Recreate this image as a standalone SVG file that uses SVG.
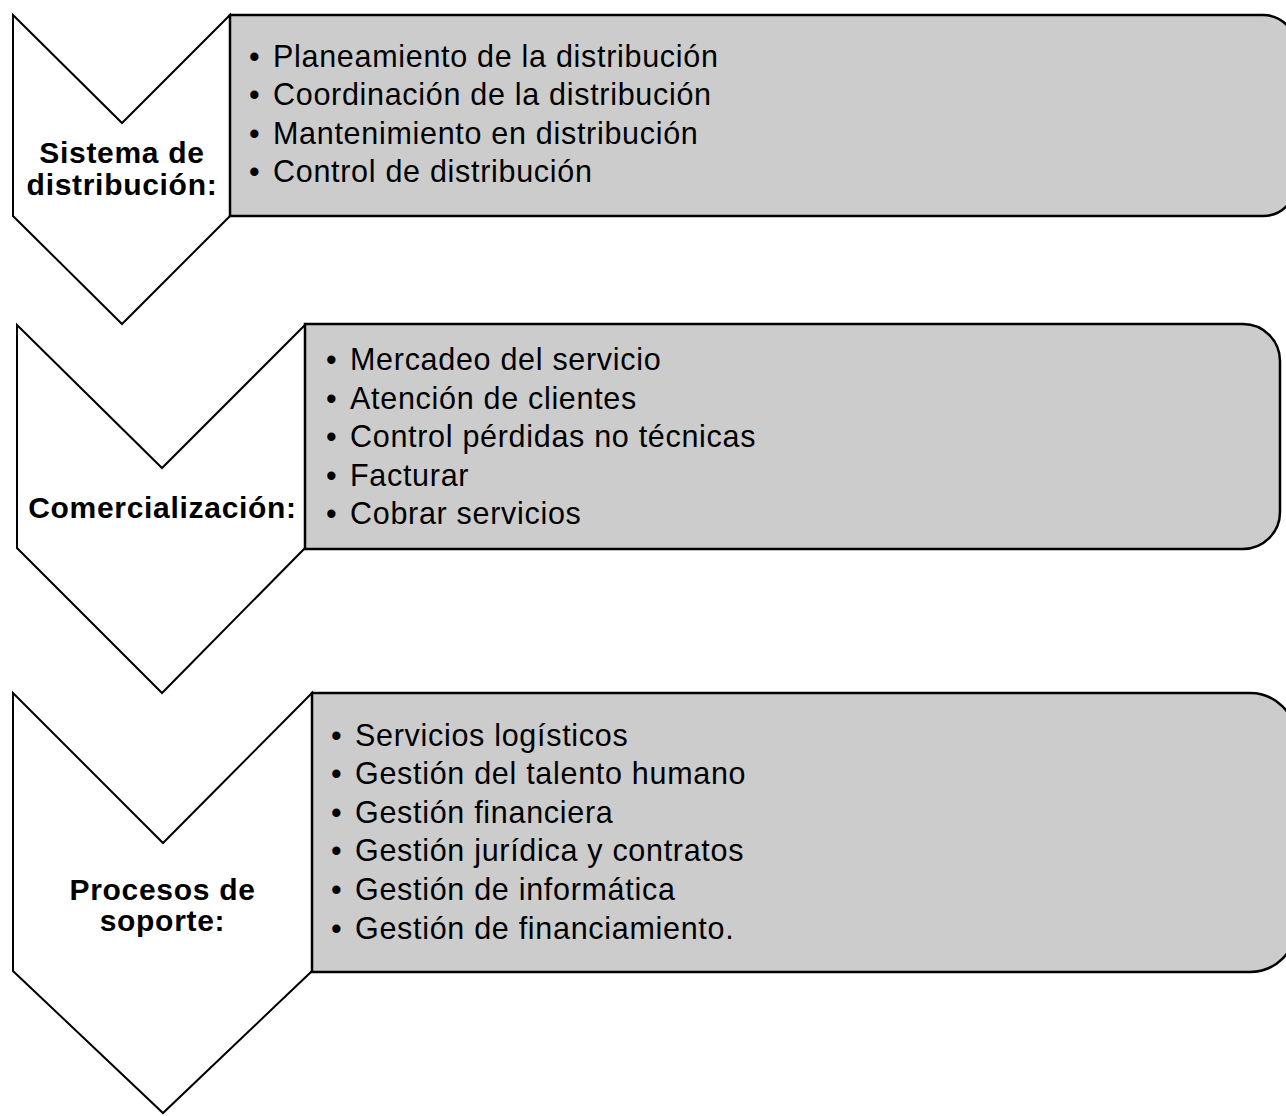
<svg xmlns="http://www.w3.org/2000/svg" width="1286" height="1116" viewBox="0 0 1286 1116">
<style>
.chev{fill:#ffffff;stroke:#000;stroke-width:2;stroke-linejoin:miter}
.box{fill:#cccccc;stroke:#000;stroke-width:2.5}
.lbl{font-family:"Liberation Sans",Arial,sans-serif;font-weight:bold;font-size:30px;letter-spacing:0.7px;fill:#000;text-anchor:middle}
.itm{font-family:"Liberation Sans",Arial,sans-serif;font-size:30.5px;letter-spacing:0.7px;fill:#000}
</style>
<rect width="1286" height="1116" fill="#ffffff"/>
<g id="node-distribucion">
<polygon class="chev" points="13,15 122,123 230,15 230,216 122,324 13,216"/>
<path class="box" d="M230,15 H1263 A33,33 0 0 1 1296,48 V183 A33,33 0 0 1 1263,216 H230 Z"/>
<text class="lbl" x="122" y="163">Sistema de</text>
<text class="lbl" x="122" y="195">distribución:</text>
<g class="itm">
<text x="249" y="66.5">•</text><text x="273" y="66.5">Planeamiento de la distribución</text>
<text x="249" y="105">•</text><text x="273" y="105">Coordinación de la distribución</text>
<text x="249" y="143.5">•</text><text x="273" y="143.5">Mantenimiento en distribución</text>
<text x="249" y="181.5">•</text><text x="273" y="181.5">Control de distribución</text>
</g>
</g>
<g id="node-comercializacion">
<polygon class="chev" points="17,325 162,468 305,325 305,548 162,693 17,548"/>
<path class="box" d="M305,324 H1243 A37,37 0 0 1 1280,361 V512 A37,37 0 0 1 1243,549 H305 Z"/>
<text class="lbl" x="162.5" y="518">Comercialización:</text>
<g class="itm">
<text x="326" y="370">•</text><text x="350" y="370">Mercadeo del servicio</text>
<text x="326" y="408.5">•</text><text x="350" y="408.5">Atención de clientes</text>
<text x="326" y="447">•</text><text x="350" y="447">Control pérdidas no técnicas</text>
<text x="326" y="485.5">•</text><text x="350" y="485.5">Facturar</text>
<text x="326" y="524">•</text><text x="350" y="524">Cobrar servicios</text>
</g>
</g>
<g id="node-soporte">
<polygon class="chev" points="13,693 163,843 312,693 312,971 163,1113 13,971"/>
<path class="box" d="M312,693 H1250 A46,46 0 0 1 1296,739 V926 A46,46 0 0 1 1250,972 H312 Z"/>
<text class="lbl" x="162.5" y="900">Procesos de</text>
<text class="lbl" x="162.5" y="931">soporte:</text>
<g class="itm">
<text x="331" y="745.5">•</text><text x="355" y="745.5">Servicios logísticos</text>
<text x="331" y="784">•</text><text x="355" y="784">Gestión del talento humano</text>
<text x="331" y="822.5">•</text><text x="355" y="822.5">Gestión financiera</text>
<text x="331" y="861">•</text><text x="355" y="861">Gestión jurídica y contratos</text>
<text x="331" y="899.5">•</text><text x="355" y="899.5">Gestión de informática</text>
<text x="331" y="938.5">•</text><text x="355" y="938.5">Gestión de financiamiento.</text>
</g>
</g>
<g id="connectors"></g>
</svg>
